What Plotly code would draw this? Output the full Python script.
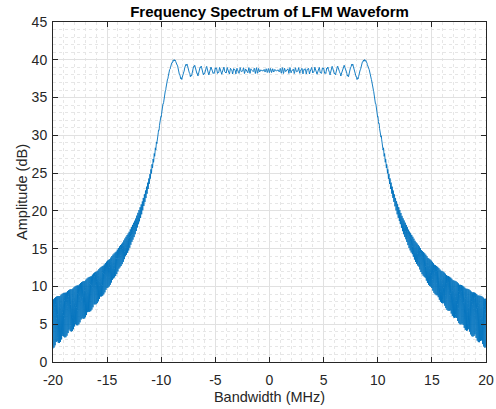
import numpy as np
import plotly.graph_objects as go

# LFM pulse parameters
bandwidth_hz = 20e6        # sweep bandwidth
pulse_width_s = 10e-6      # pulse duration
sample_rate_hz = 120e6     # sampling rate
fft_size = 8192            # zero-padded FFT length

x_ticks = [-20, -15, -10, -5, 0, 5, 10, 15, 20]
y_ticks = [0, 5, 10, 15, 20, 25, 30, 35, 40, 45]

# Complex baseband chirp, swept symmetrically about 0 Hz
n_samples = int(round(pulse_width_s * sample_rate_hz))
t = np.arange(n_samples) / sample_rate_hz - pulse_width_s / 2
chirp_rate = bandwidth_hz / pulse_width_s
signal = np.exp(1j * np.pi * chirp_rate * t ** 2)

spectrum = np.fft.fftshift(np.fft.fft(signal, fft_size))
amplitude_db = 20 * np.log10(np.abs(spectrum) + 1e-12)
freq_mhz = np.fft.fftshift(np.fft.fftfreq(fft_size, 1 / sample_rate_hz)) / 1e6

FONT = "Liberation Sans, Arial, sans-serif"

fig = go.Figure(go.Scatter(
    x=freq_mhz, y=amplitude_db, mode="lines",
    line=dict(color="#0072BD", width=0.9),
    hoverinfo="skip", showlegend=False,
))

axis_common = dict(
    showline=True, linecolor="#262626", linewidth=1, mirror="allticks",
    ticks="inside", ticklen=5, tickcolor="#262626", tickwidth=1,
    showgrid=True, gridcolor="#e1e1e1", gridwidth=1,
    zeroline=False, automargin=False,
    tickfont=dict(family=FONT, size=14, color="#262626"),
    minor=dict(dtick=1, showgrid=True, gridcolor="#e6e6e6", griddash="dot", gridwidth=1),
)

fig.update_layout(
    width=496, height=409,
    margin=dict(l=53, r=10, t=22, b=47),
    paper_bgcolor="white", plot_bgcolor="white",
    title=dict(
        text="<b>Frequency Spectrum of LFM Waveform</b>",
        xref="paper", x=0.5, xanchor="center", y=0.972, yanchor="middle",
        font=dict(family=FONT, size=15, color="black"),
    ),
    xaxis=dict(
        range=[-20, 20], tickvals=x_ticks, ticktext=[str(v) for v in x_ticks],
        ticklabelstandoff=5,
        title=dict(text="Bandwidth (MHz)", standoff=5,
                   font=dict(family=FONT, size=14.5, color="#262626")),
        **axis_common,
    ),
    yaxis=dict(
        range=[0, 45], tickvals=y_ticks, ticktext=[str(v) for v in y_ticks],
        ticklabelstandoff=2,
        title=dict(text="Amplitude (dB)", standoff=0,
                   font=dict(family=FONT, size=14.5, color="#262626")),
        **axis_common,
    ),
)

fig.write_html("out.html")
